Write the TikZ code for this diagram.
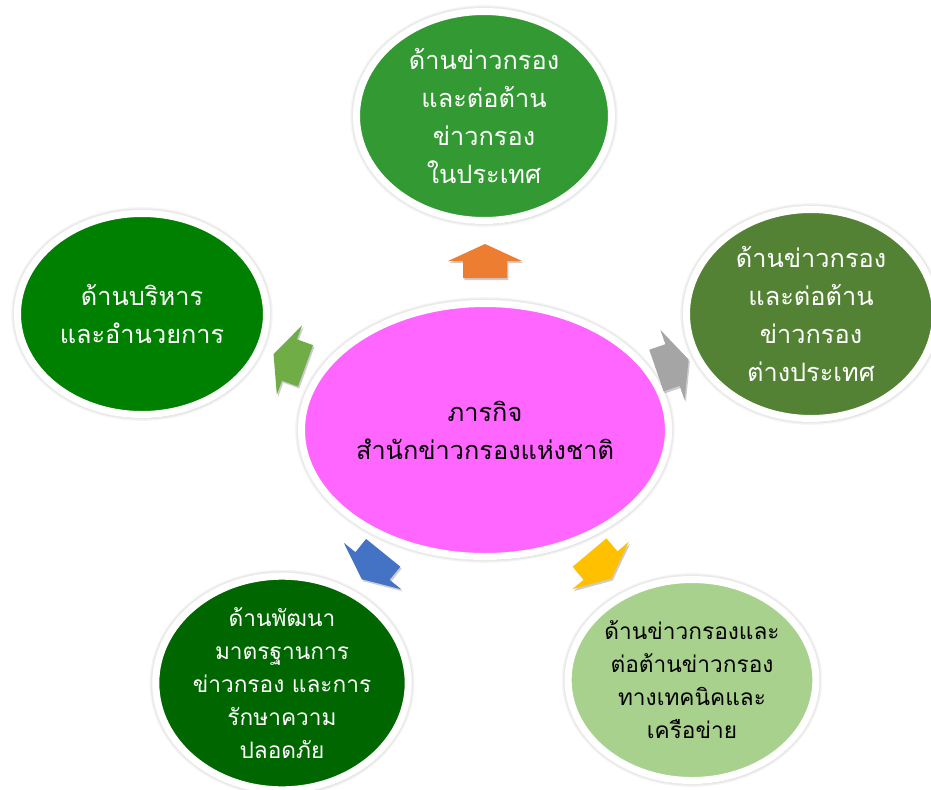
\documentclass[tikz,border=0pt]{standalone}
\usepackage{fontspec}
\newfontfamily\thaifont[Script=Thai]{Loma}
\usetikzlibrary{shapes.geometric,shadows}

\definecolor{missionpink}{RGB}{255,102,255}
\definecolor{domesticgreen}{RGB}{51,153,51}
\definecolor{admingreen}{RGB}{0,128,0}
\definecolor{foreigngreen}{RGB}{84,130,53}
\definecolor{standardgreen}{RGB}{0,102,0}
\definecolor{technicalgreen}{RGB}{169,209,142}
\definecolor{arroworange}{RGB}{237,125,49}
\definecolor{arrowgreen}{RGB}{112,173,71}
\definecolor{arrowgray}{RGB}{165,165,165}
\definecolor{arrowblue}{RGB}{68,114,196}
\definecolor{arrowgold}{RGB}{255,192,0}

\tikzset{every picture/.style={line width=0.75pt}}
\tikzset{
  bubble/.style={ellipse, draw=white, line width=5.25pt, inner sep=0pt, align=center,
    drop shadow={shadow xshift=1pt, shadow yshift=-2.5pt, opacity=0.2, fill=black},
    preaction={draw=black, draw opacity=0.04, line width=9.5pt},
    preaction={draw=black, draw opacity=0.05, line width=7.5pt}},
  bigtext/.style={font=\thaifont\fontsize{19}{28.5}\selectfont},
  smalltext/.style={font=\thaifont\fontsize{17}{24.75}\selectfont},
  blockarrow/.pic={
    \fill[pic actions, drop shadow={shadow xshift=1pt, shadow yshift=-1.5pt, opacity=0.2, fill=black}]
      (17,0) -- (0,37) -- (0,22) -- (-17,22) -- (-17,-22) -- (0,-22) -- (0,-37) -- cycle;
  }
}

\begin{document}
\begin{tikzpicture}[x=0.75pt,y=0.75pt,yscale=-1,xscale=1]
\useasboundingbox (0,0) rectangle (931,789);

% Centre
\node [bubble, bigtext, fill=missionpink, minimum width=275.25pt, minimum height=189.75pt] (mission) at (485,430) {ภารกิจ\\สำนักข่าวกรองแห่งชาติ};

% Satellites
\node [bubble, bigtext, fill=domesticgreen, text=white, minimum width=191.25pt, minimum height=156.75pt] (domestic) at (484,116) {ด้านข่าวกรอง\\และต่อต้าน\\ข่าวกรอง\\ในประเทศ};
\node [bubble, bigtext, fill=admingreen, text=white, minimum width=186.75pt, minimum height=150.75pt] (admin) at (142,314) {ด้านบริหาร\\และอำนวยการ};
\node [bubble, bigtext, fill=foreigngreen, text=white, minimum width=186.75pt, minimum height=156.75pt] (foreign) at (811,314) {ด้านข่าวกรอง\\และต่อต้าน\\ข่าวกรอง\\ต่างประเทศ};
\node [bubble, smalltext, fill=standardgreen, text=white, minimum width=185.25pt, minimum height=156.75pt] (standards) at (282,683) {ด้านพัฒนา\\มาตรฐานการ\\ข่าวกรอง และการ\\รักษาความ\\ปลอดภัย};
\node [bubble, smalltext, fill=technicalgreen, minimum width=177.75pt, minimum height=150.75pt] (technical) at (692,680) {ด้านข่าวกรองและ\\ต่อต้านข่าวกรอง\\ทางเทคนิคและ\\เครือข่าย};

% Arrows
\pic [fill=arroworange, rotate=90] at (485,261) {blockarrow};
\pic [fill=arrowgreen, rotate=160] at (289.5,360) {blockarrow};
\pic [fill=arrowgray, rotate=19] at (672.5,365) {blockarrow};
\pic [fill=arrowblue, rotate=-129] at (372.5,566) {blockarrow};
\pic [fill=arrowgold, rotate=-50] at (600.5,565.5) {blockarrow};

\end{tikzpicture}
\end{document}
